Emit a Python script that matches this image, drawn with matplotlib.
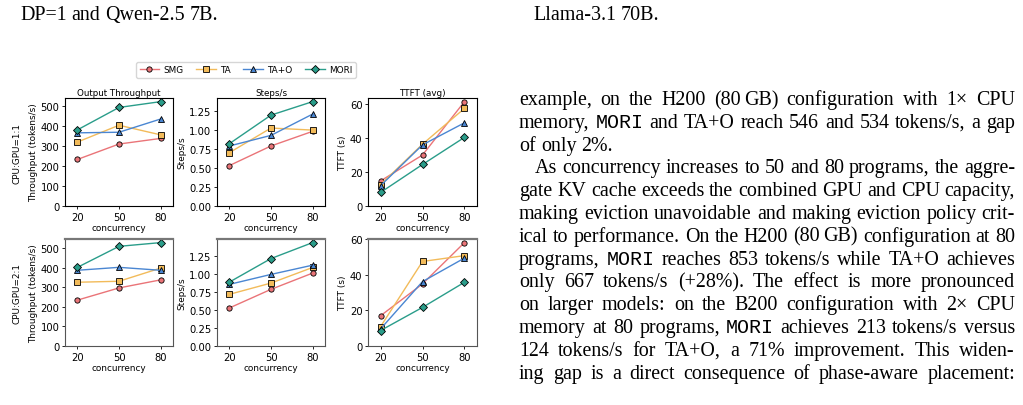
import numpy as np
import matplotlib
matplotlib.use('Agg')
import matplotlib.pyplot as plt
from matplotlib.ticker import MultipleLocator, FormatStrFormatter

W, H = 1023, 406

# data
concurrency = ['20', '50', '80']
methods = ['SMG', 'TA', 'TA+O', 'MORI']
colors = ['#ea7478', '#f2bb5a', '#4a86d2', '#2a9d8a']
markers = ['o', 's', '^', 'D']

# CPU:GPU = 1:1
thr_11 = {'SMG': [233, 310, 338], 'TA': [320, 404, 356],
          'TA+O': [366, 369, 435], 'MORI': [381, 493, 522]}
steps_11 = {'SMG': [0.535, 0.794, 0.987], 'TA': [0.706, 1.031, 1.004],
            'TA+O': [0.794, 0.934, 1.215], 'MORI': [0.825, 1.202, 1.380]}
ttft_11 = {'SMG': [14.8, 30.1, 61.6], 'TA': [12.6, 36.5, 57.6],
           'TA+O': [12.0, 36.1, 49.1], 'MORI': [8.0, 24.5, 40.5]}
# CPU:GPU = 2:1
thr_21 = {'SMG': [234, 296, 337], 'TA': [325, 330, 397],
          'TA+O': [386, 401, 386], 'MORI': [401, 508, 527]}
steps_21 = {'SMG': [0.528, 0.786, 1.011], 'TA': [0.717, 0.873, 1.089],
            'TA+O': [0.855, 0.993, 1.121], 'MORI': [0.887, 1.213, 1.434]}
ttft_21 = {'SMG': [17.0, 34.9, 58.1], 'TA': [10.9, 47.5, 50.8],
           'TA+O': [9.6, 36.2, 49.4], 'MORI': [8.7, 21.7, 35.8]}

rows = [[thr_11, steps_11, ttft_11], [thr_21, steps_21, ttft_21]]
row_labels = ['CPU:GPU=1:1', 'CPU:GPU=2:1']
titles = ['Output Throughput', 'Steps/s', 'TTFT (avg)']
ylabels = ['Throughput (tokens/s)', 'Steps/s', 'TTFT (s)']
ysteps = [100, 0.25, 20]
yfmts = ['%d', '%.2f', '%d']

fig = plt.figure(figsize=(W / 100, H / 100), dpi=100)

def px_axes(x0, x1, y0, y1):
    return fig.add_axes([x0 / W, 1 - y1 / H, (x1 - x0) / W, (y1 - y0) / H])

cols_px = [(65, 173), (217, 325), (368, 477)]
rows_px = [(99, 207), (240, 347)]

handles = []
for r in range(2):
    for c in range(3):
        ax = px_axes(cols_px[c][0], cols_px[c][1], rows_px[r][0], rows_px[r][1])
        data = rows[r][c]
        xs = np.arange(len(concurrency))
        ymax = 0
        for m, col, mk in zip(methods, colors, markers):
            ln, = ax.plot(xs, data[m], color=col, marker=mk, markersize=3.8,
                          markerfacecolor=col, markeredgecolor='black',
                          markeredgewidth=0.6, linewidth=1.0, label=m)
            ymax = max(ymax, max(data[m]))
            if r == 0 and c == 0:
                handles.append(ln)
        ax.set_xlim(-0.3, 2.3)
        ax.set_ylim(0, ymax * 1.035)
        ax.yaxis.set_major_locator(MultipleLocator(ysteps[c]))
        ax.yaxis.set_major_formatter(FormatStrFormatter(yfmts[c]))
        ax.set_xticks(xs)
        ax.set_xticklabels(concurrency)
        ax.tick_params(labelsize=7.2, length=2.5, width=0.6, pad=1.5)
        ax.set_xlabel('concurrency', fontsize=6.4, labelpad=1)
        ax.set_ylabel(ylabels[c], fontsize=6.4, labelpad=2)
        if r == 0:
            ax.set_title(titles[c], fontsize=6.3, pad=2)
        for sp in ax.spines.values():
            sp.set_linewidth(0.8)
            if r == 1:
                sp.set_color('#555555')
        if r == 1:
            ax.spines['top'].set_linewidth(1.6)
            ax.spines['top'].set_color('#777777')
        if c == 0:
            ax.text(-0.44, 0.5, row_labels[r], transform=ax.transAxes,
                    rotation=90, fontsize=6.4, ha='center', va='center')

fig.legend(handles=handles, labels=methods, loc='center',
           bbox_to_anchor=(246 / W, 1 - 71 / H), ncol=4, fontsize=6.4,
           frameon=True, edgecolor='#cccccc', fancybox=True,
           handlelength=2.2, columnspacing=1.4, handletextpad=0.5,
           borderpad=0.35)

# ---- surrounding paper text ----
serif = 'Liberation Serif'
mono = 'Liberation Mono'
fs = 14.4
renderer = fig.canvas.get_renderer()

def word_parts(word):
    if word.startswith('MORI'):
        parts = [('MORI', mono)]
        if len(word) > 4:
            parts.append((word[4:], serif))
        return parts
    return [(word, serif)]

def measure(s, fam):
    t = fig.text(0, 0, s, fontsize=fs, family=fam)
    w = t.get_window_extent(renderer).width
    t.remove()
    return w

thin = measure('0', serif) * 0.33

def word_width(word):
    pieces = word.split('\u2009')
    total = 0
    for i, p in enumerate(pieces):
        for s, fam in word_parts(p):
            total += measure(s, fam)
        if i < len(pieces) - 1:
            total += thin
    return total

def draw_word(word, x, y):
    pieces = word.split('\u2009')
    for i, p in enumerate(pieces):
        for s, fam in word_parts(p):
            fig.text(x / W, 1 - y / H, s, fontsize=fs, family=fam,
                     va='baseline', ha='left')
            x += measure(s, fam)
        if i < len(pieces) - 1:
            x += thin

def draw_line(text, x0, x1, y, justify=True):
    words = text.split(' ')
    widths = [word_width(w) for w in words]
    if justify and len(words) > 1:
        gap = (x1 - x0 - sum(widths)) / (len(words) - 1)
    else:
        gap = measure('0', serif) * 0.5
    x = x0
    for w, wd in zip(words, widths):
        draw_word(w, x, y)
        x += wd + gap

x_left, x_right = 519, 1015
draw_line('DP=1 and Qwen-2.5 7B.', 20, 0, 20, justify=False)
draw_line('Llama-3.1 70B.', 533, 0, 20, justify=False)

body = [
    ('example, on the H200 (80\u2009GB) configuration with 1\u00d7 CPU', 0, True),
    ('memory, MORI and TA+O reach 546 and 534 tokens/s, a gap', 0, True),
    ('of only 2%.', 0, False),
    ('As concurrency increases to 50 and 80 programs, the aggre-', 16, True),
    ('gate KV cache exceeds the combined GPU and CPU capacity,', 0, True),
    ('making eviction unavoidable and making eviction policy crit-', 0, True),
    ('ical to performance. On the H200 (80\u2009GB) configuration at 80', 0, True),
    ('programs, MORI reaches 853 tokens/s while TA+O achieves', 0, True),
    ('only 667 tokens/s (+28%). The effect is more pronounced', 0, True),
    ('on larger models: on the B200 configuration with 2\u00d7 CPU', 0, True),
    ('memory at 80 programs, MORI achieves 213 tokens/s versus', 0, True),
    ('124 tokens/s for TA+O, a 71% improvement. This widen-', 0, True),
    ('ing gap is a direct consequence of phase-aware placement:', 0, True),
]
base0, step = 105, 22.8
for i, (line, indent, just) in enumerate(body):
    draw_line(line, x_left + indent, x_right, base0 + step * i, justify=just)

fig.savefig('out.png', dpi=100)
